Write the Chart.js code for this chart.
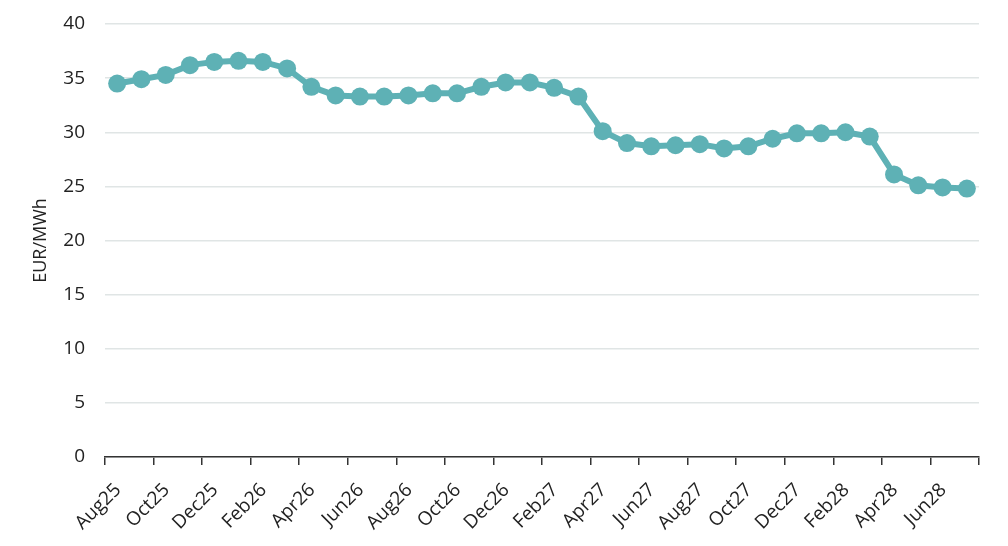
<!DOCTYPE html>
<html>
<head>
    <title>EUR/MWh forward curve</title>
    <script src="https://cdn.jsdelivr.net/npm/chart.js"></script>
    <style>
        body {
            margin: 0;
            background-color: #ffffff;
        }
        .chart-container {
            width: 1008px;
            height: 546px;
        }
    </style>
</head>
<body>
    <div class="chart-container">
        <canvas id="priceChart"></canvas>
    </div>

    <script>
        // Months Aug25 .. Jul28
        const months = [
            'Aug25', 'Sep25', 'Oct25', 'Nov25', 'Dec25', 'Jan26', 'Feb26', 'Mar26',
            'Apr26', 'May26', 'Jun26', 'Jul26', 'Aug26', 'Sep26', 'Oct26', 'Nov26',
            'Dec26', 'Jan27', 'Feb27', 'Mar27', 'Apr27', 'May27', 'Jun27', 'Jul27',
            'Aug27', 'Sep27', 'Oct27', 'Nov27', 'Dec27', 'Jan28', 'Feb28', 'Mar28',
            'Apr28', 'May28', 'Jun28', 'Jul28'
        ];
        // EUR/MWh
        const prices = [
            34.5, 34.9, 35.3, 36.2, 36.5, 36.6, 36.5, 35.9,
            34.2, 33.4, 33.3, 33.3, 33.4, 33.6, 33.6, 34.2,
            34.6, 34.6, 34.1, 33.3, 30.1, 29.0, 28.7, 28.8,
            28.9, 28.5, 28.7, 29.4, 29.9, 29.9, 30.0, 29.6,
            26.1, 25.1, 24.9, 24.8
        ];
        // labelled every second month, ticks sit on month boundaries
        const tickMonths = [
            'Aug25', 'Oct25', 'Dec25', 'Feb26', 'Apr26', 'Jun26', 'Aug26', 'Oct26', 'Dec26',
            'Feb27', 'Apr27', 'Jun27', 'Aug27', 'Oct27', 'Dec27', 'Feb28', 'Apr28', 'Jun28', ''
        ];
        const yTicks = [0, 5, 10, 15, 20, 25, 30, 35, 40];

        const lineColor = '#5eb1b5';
        const font = { family: '"Open Sans", sans-serif', size: 19 };

        const ctx = document.getElementById('priceChart').getContext('2d');
        new Chart(ctx, {
            type: 'line',
            data: {
                datasets: [{
                    label: 'EUR/MWh',
                    data: months.map((m, i) => ({ x: i, y: prices[i] })),
                    borderColor: lineColor,
                    backgroundColor: lineColor,
                    borderWidth: 6,
                    pointRadius: 9,
                    pointBorderWidth: 0,
                    pointBackgroundColor: lineColor,
                    tension: 0
                }]
            },
            options: {
                responsive: true,
                maintainAspectRatio: false,
                animation: false,
                layout: {
                    padding: { top: 24, right: 29, left: 30, bottom: 0 }
                },
                plugins: {
                    legend: { display: false },
                    tooltip: { enabled: false }
                },
                scales: {
                    x: {
                        type: 'linear',
                        min: -0.5,
                        max: months.length - 0.5,
                        afterBuildTicks: axis => {
                            axis.ticks = tickMonths.map((t, k) => ({ value: -0.5 + 2 * k }));
                        },
                        afterFit: axis => {
                            axis.height = 89;
                            axis.paddingLeft = 0;
                            axis.paddingRight = 0;
                        },
                        ticks: {
                            autoSkip: false,
                            maxRotation: 45,
                            minRotation: 45,
                            color: '#222',
                            font: font,
                            padding: 14,
                            labelOffset: 13,
                            callback: (v, idx) => tickMonths[idx]
                        },
                        grid: {
                            drawOnChartArea: false,
                            drawTicks: true,
                            tickLength: 8,
                            color: '#333',
                            lineWidth: 1.5
                        },
                        border: { display: true, color: '#333', width: 1.5 }
                    },
                    y: {
                        min: 0,
                        max: 40,
                        afterBuildTicks: axis => {
                            axis.ticks = yTicks.map(v => ({ value: v }));
                        },
                        afterFit: axis => {
                            axis.width = 75;
                            axis.paddingTop = 0;
                            axis.paddingBottom = 0;
                        },
                        ticks: {
                            color: '#222',
                            font: font,
                            padding: 20
                        },
                        grid: {
                            color: '#e0e5e5',
                            lineWidth: 1.5,
                            drawTicks: false
                        },
                        border: { display: false },
                        title: {
                            display: true,
                            text: 'EUR/MWh',
                            color: '#222',
                            padding: 0,
                            font: { family: '"Open Sans", sans-serif', size: 18 }
                        }
                    }
                }
            }
        });
    </script>
</body>
</html>
